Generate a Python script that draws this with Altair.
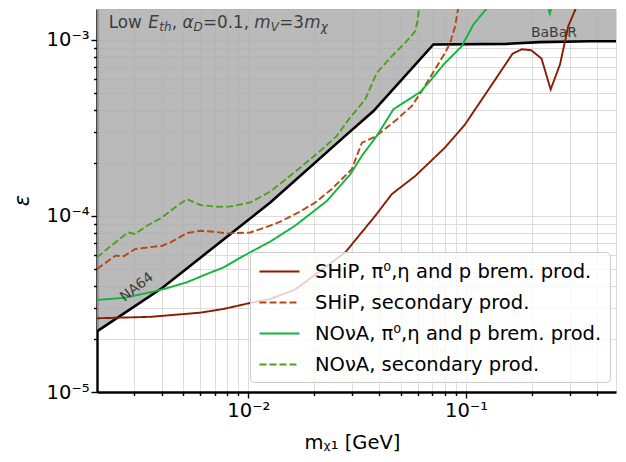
import json
import altair as alt
import pandas as pd

# ---------------- data ----------------
x_domain = [0.00202, 0.488]
y_domain = [1e-05, 0.00149]

# excluded region boundary (NA64 + BaBaR)
bound_x = [0.00202, 0.00402, 0.00542, 0.01262, 0.02786, 0.03756, 0.0708, 0.1537, 0.2185, 0.371, 0.488]
bound_y = [2.21e-5, 3.89e-5, 5.21e-5, 1.189e-4, 2.84e-4, 3.93e-4, 9.37e-4, 9.45e-4, 9.66e-4, 9.78e-4, 9.78e-4]

series_names = [
    "SHiP, π⁰,η and p brem. prod.",
    "SHiP, secondary prod.",
    "NOνA, π⁰,η and p brem. prod.",
    "NOνA, secondary prod.",
]
series_colors = ["#8a1b05", "#b9470f", "#10b53c", "#4da01c"]
series_dashes = [[1, 0], [7, 3], [1, 0], [7, 3]]

ship_x = [0.00202, 0.00355, 0.00603, 0.0077, 0.0102, 0.0126, 0.0164, 0.0209, 0.0279, 0.0383, 0.0456,
          0.0584, 0.0801, 0.0989, 0.1245, 0.1635, 0.1801, 0.199, 0.222, 0.2446, 0.270, 0.2945, 0.322]
ship_y = [2.62e-5, 2.67e-5, 2.82e-5, 2.96e-5, 3.20e-5, 3.37e-5, 3.81e-5, 4.76e-5, 6.20e-5, 1.0e-4, 1.327e-4,
          1.68e-4, 2.44e-4, 3.30e-4, 5.03e-4, 8.31e-4, 8.80e-4, 8.70e-4, 7.80e-4, 5.21e-4, 7.22e-4, 1.189e-3, 1.54e-3]

shipsec_x = [0.00202, 0.002455, 0.00268, 0.00303, 0.00402, 0.00439, 0.00524, 0.00603, 0.00694, 0.00798,
             0.0102, 0.0126, 0.01377, 0.0170, 0.0203, 0.0242, 0.0299, 0.0315, 0.03325, 0.0383, 0.0481,
             0.0563, 0.0626, 0.0801, 0.0845, 0.0891, 0.0923]
shipsec_y = [4.99e-5, 5.94e-5, 5.89e-5, 6.48e-5, 6.76e-5, 7.06e-5, 7.98e-5, 8.22e-5, 8.12e-5, 7.94e-5,
             8.04e-5, 8.78e-5, 9.16e-5, 1.044e-4, 1.189e-4, 1.42e-4, 1.84e-4, 2.19e-4, 2.60e-4, 2.81e-4, 3.52e-4,
             4.19e-4, 5.10e-4, 8.40e-4, 9.57e-4, 1.189e-3, 1.54e-3]

nova_x = [0.00202, 0.00268, 0.00355, 0.00423, 0.00524, 0.00647, 0.0077, 0.00986, 0.0126, 0.0164, 0.0230,
          0.0294, 0.03325, 0.0389, 0.0464, 0.0615, 0.0672, 0.0801, 0.0956, 0.108, 0.1265, 0.2, 0.2427, 0.28]
nova_y = [3.33e-5, 3.42e-5, 3.68e-5, 3.88e-5, 4.20e-5, 4.68e-5, 5.09e-5, 6.07e-5, 7.13e-5, 8.78e-5, 1.216e-4,
          1.72e-4, 2.19e-4, 2.84e-4, 4.02e-4, 5.03e-4, 5.68e-4, 7.37e-4, 9.17e-4, 1.216e-3, 1.54e-3, 3.0e-3,
          1.40e-3, 3.0e-3]

novasec_x = [0.00202, 0.00225, 0.00268, 0.002825, 0.00303, 0.00343, 0.00402, 0.00471, 0.00524, 0.00603,
             0.00719, 0.00826, 0.0102, 0.0126, 0.0170, 0.0218, 0.0255, 0.0289, 0.0344, 0.0389, 0.0456,
             0.0525, 0.0584, 0.0600, 0.0609]
novasec_y = [5.81e-5, 6.48e-5, 7.70e-5, 8.04e-5, 7.88e-5, 8.78e-5, 9.78e-5, 1.140e-4, 1.242e-4, 1.150e-4,
             1.124e-4, 1.129e-4, 1.189e-4, 1.37e-4, 1.84e-4, 2.38e-4, 2.84e-4, 3.52e-4, 4.57e-4, 6.47e-4, 8.04e-4,
             9.57e-4, 1.114e-3, 1.296e-3, 1.54e-3]

x_ticks = [0.003, 0.004, 0.005, 0.006, 0.007, 0.008, 0.009,
           0.01, 0.02, 0.03, 0.04, 0.05, 0.06, 0.07, 0.08, 0.09, 0.1, 0.2, 0.3, 0.4]
x_major = [0.01, 0.1]
x_major_labels = ["10⁻²", "10⁻¹"]
y_ticks = [1e-05, 2e-05, 3e-05, 4e-05, 5e-05, 6e-05, 7e-05, 8e-05, 9e-05,
           0.0001, 0.0002, 0.0003, 0.0004, 0.0005, 0.0006, 0.0007, 0.0008, 0.0009, 0.001]
y_major = [1e-05, 0.0001, 0.001]
y_major_labels = ["10⁻⁵", "10⁻⁴", "10⁻³"]

# annotations
ann_babar = {"x": 0.2533, "y": 1.082e-3, "text": "BaBaR"}
ann_na64 = {"x": 0.00308, "y": 3.93e-5, "text": "NA64"}
ann_anchor = {"x": 0.002286, "y": 1.164e-3}
ann_pieces = ["Low ", "E", "th", ",", "α", "D", "=0.1,", "m", "V", "=3", "m", "χ"]
ann_sub = [False, False, True, False, False, True, False, False, True, False, False, True]
ann_italic = [False, True, True, False, True, True, False, True, True, False, True, True]
ann_dx = [0, 39.5, 50.5, 63, 73.7, 84.8, 94.2, 145.6, 162, 170.5, 195.5, 212]

# ---------------- build tables ----------------
FONT = "DejaVu Sans"
bound_df = pd.DataFrame({"x": bound_x, "y": bound_y, "top": [y_domain[1]] * len(bound_x)})
frames = []
for name, xs, ys in zip(series_names,
                        [ship_x, shipsec_x, nova_x, novasec_x],
                        [ship_y, shipsec_y, nova_y, novasec_y]):
    frames.append(pd.DataFrame({"x": xs, "y": ys, "series": name}))
curves_df = pd.concat(frames, ignore_index=True)


def label_expr(vals, labels):
    return "".join(f"datum.value == {v!r} ? '{l}' : " for v, l in zip(vals, labels)) + "''"


def tick_cond(vals, big, small):
    return {"condition": {"test": f"indexof({json.dumps(vals)}, datum.value) >= 0", "value": big}, "value": small}


x_scale = alt.Scale(type="log", domain=x_domain, nice=False)
y_scale = alt.Scale(type="log", domain=y_domain, nice=False)

x_axis = alt.Axis(
    values=x_ticks, labelExpr=label_expr(x_major, x_major_labels),
    tickSize=tick_cond(x_major, 6, 3.5), tickWidth=1.4, tickColor="black",
    domainColor="black", domainWidth=2.4,
    grid=True, gridColor="#dcdcdc", gridWidth=1,
    labelFont=FONT, labelFontSize=19.5, labelColor="black", labelPadding=3,
    labelOverlap=False, labelFlush=False,
    title="mᵪ₁  [GeV]", titleFont=FONT, titleFontSize=19.5, titleFontWeight="normal",
    titleColor="black", titleX=255, titleY=50, titleAlign="center", titleBaseline="middle",
)
y_axis = alt.Axis(
    values=y_ticks, labelExpr=label_expr(y_major, y_major_labels),
    tickSize=tick_cond(y_major, 6, 3.5), tickWidth=1.4, tickColor="black",
    domainColor="black", domainWidth=2.4,
    grid=True, gridColor="#dcdcdc", gridWidth=1,
    labelFont=FONT, labelFontSize=19.5, labelColor="black", labelPadding=2,
    labelOverlap=False, labelFlush=False,
    title="ε", titleFont=FONT, titleFontSize=21, titleFontWeight="normal", titleFontStyle="italic",
    titleColor="black", titleX=-75, titleY=191, titleAngle=270, titleAlign="center", titleBaseline="middle",
)

X = alt.X("x:Q", scale=x_scale, axis=x_axis)
Y = alt.Y("y:Q", scale=y_scale, axis=y_axis)

area = alt.Chart(bound_df).mark_area(color="#ababab", opacity=0.82, clip=True).encode(
    x=X, y=Y, y2="top:Q"
)
boundary = alt.Chart(bound_df).mark_line(color="black", strokeWidth=2.6, clip=True).encode(x=X, y=Y)

legend = alt.Legend(
    title=None, orient="none", legendX=153, legendY=243,
    symbolType="M-2,0H2", symbolSize=400, symbolStrokeWidth=2.2, symbolOffset=10,
    labelFont=FONT, labelFontSize=19.5, labelColor="black", labelOffset=24, labelLimit=600,
    rowPadding=10, padding=8, fillColor="rgba(255,255,255,0.8)", strokeColor="#cccccc",
    cornerRadius=4,
)
curves = alt.Chart(curves_df).mark_line(strokeWidth=1.9, clip=True).encode(
    x=X, y=Y,
    color=alt.Color("series:N", scale=alt.Scale(domain=series_names, range=series_colors), legend=legend),
    strokeDash=alt.StrokeDash("series:N", scale=alt.Scale(domain=series_names, range=series_dashes),
                              legend=legend),
)

babar = alt.Chart(pd.DataFrame([ann_babar])).mark_text(
    font=FONT, fontSize=14, color="#3d3d3d", align="center", baseline="middle"
).encode(x=X, y=Y, text="text:N")
na64 = alt.Chart(pd.DataFrame([ann_na64])).mark_text(
    font=FONT, fontSize=14, color="#3d3d3d", align="center", baseline="middle", angle=322
).encode(x=X, y=Y, text="text:N")

layers = [area, boundary, curves, babar, na64]
anchor_df = pd.DataFrame([ann_anchor])
for txt, sub, ital, dx in zip(ann_pieces, ann_sub, ann_italic, ann_dx):
    layers.append(
        alt.Chart(anchor_df).mark_text(
            text=txt, font=FONT, fontSize=12 if sub else 16.8,
            fontStyle="italic" if ital else "normal", color="#3d3d3d",
            align="left", baseline="alphabetic", dx=dx, dy=3.5 if sub else 0,
        ).encode(x=X, y=Y)
    )

chart = alt.layer(*layers).properties(
    width=519, height=383, autosize="none",
    padding={"left": 89, "top": 1, "right": 2, "bottom": 62},
).configure_view(stroke="black", strokeWidth=2).configure(font=FONT)

chart.save("out.html", embed_options={"renderer": "svg", "actions": False})
